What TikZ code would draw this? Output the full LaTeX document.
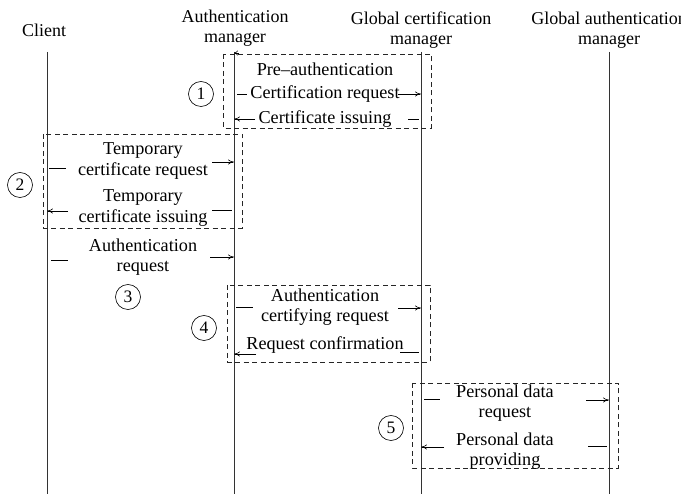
\documentclass[tikz,border=0pt]{standalone}
\usepackage{fontspec}
\setmainfont{Liberation Serif}
\usetikzlibrary{arrows.meta}
\tikzset{
  lifeline/.style={line width=.9pt, black!80},
  phase/.style={draw, black!85, line width=.7pt, dash pattern=on 5pt off 3.5pt},
  stepno/.style={circle, draw, line width=.6pt, inner sep=0pt, minimum size=25pt, font=\fontsize{17.5}{17}\selectfont},
  actor/.style={align=center, font=\fontsize{18}{20}\selectfont},
  msg/.style={align=center, font=\fontsize{18.2}{20.5}\selectfont},
  tip/.style={line width=.6pt, -{To[length=6pt,width=5pt]}},
  stub/.style={line width=.6pt},
}
\begin{document}
\begin{tikzpicture}[x=1pt, y=-1pt]
\useasboundingbox (0,0) rectangle (681,494);

% lifelines
\coordinate (cl) at (47,52);
\coordinate (am) at (234,52);
\coordinate (gcm) at (421,52);
\coordinate (gam) at (609,52);
\draw[lifeline] (cl) -- (cl |- 0,494);
\draw[lifeline] (am) -- (am |- 0,494);
\draw[lifeline] (gcm) -- (gcm |- 0,494);
\draw[lifeline] (gam) -- (gam |- 0,494);

% actors
\node[actor] (clhead) at (44,30) {Client};
\node[actor] (amhead) at (235,28) {Authentication\\manager};
\node[actor] (gcmhead) at (421,30) {Global certification\\manager};
\node[actor] (gamhead) at (609,30) {Global authentication\\manager};

% phase 1
\draw[phase] (223,54) rectangle (431,128);
\draw[-{To[length=4pt,width=5pt]}, line width=.6pt] (239,53) -- (am |- 0,53);
\node[stepno] (s1) at (201,94) {1};
\node[msg] (preauth) at (325,69) {Pre--authentication};
\node[msg] (certreq) at (325,94) {Certification request};
\node[msg] (certiss) at (325,119) {Certificate issuing};
\draw[stub] (am |- 0,94) ++(3,0) -- ++(10,0);
\draw[tip] (398,94) -- (gcm |- 0,94);
\draw[tip] (255,119) -- (am |- 0,119);
\draw[stub] (gcm |- 0,119) ++(-13,0) -- ++(11,0);

% phase 2
\draw[phase] (43,134) rectangle (242,228);
\node[stepno] (s2) at (20,185) {2};
\node[msg] (tmpreq) at (143,161) {Temporary\\certificate request};
\node[msg] (tmpiss) at (143,208) {Temporary\\certificate issuing};
\draw[stub] (cl |- 0,168) ++(2,0) -- ++(17,0);
\draw[tip] (212,162) -- (am |- 0,162);
\draw[tip] (68,211) -- (cl |- 0,211);
\draw[stub] (am |- 0,210) ++(-22,0) -- ++(20,0);

% phase 3
\node[msg] (authreq) at (143,257) {Authentication\\request};
\node[stepno] (s3) at (128,297) {3};
\draw[stub] (cl |- 0,260) ++(4,0) -- ++(17,0);
\draw[tip] (210,257) -- (am |- 0,257);

% phase 4
\draw[phase] (227,285) rectangle (430,362);
\node[stepno] (s4) at (204,328) {4};
\node[msg] (certify) at (325,307) {Authentication\\certifying request};
\node[msg] (confirm) at (325,345) {Request confirmation};
\draw[stub] (am |- 0,307) ++(2,0) -- ++(17,0);
\draw[tip] (398,308) -- (gcm |- 0,308);
\draw[tip] (256,354) -- (am |- 0,354);
\draw[stub] (gcm |- 0,352) ++(-21,0) -- ++(19,0);

% phase 5
\draw[phase] (412,383) rectangle (618,468);
\node[stepno] (s5) at (391,428) {5};
\node[msg] (pdreq) at (505,403) {Personal data\\request};
\node[msg] (pdprov) at (505,451) {Personal data\\providing};
\draw[stub] (gcm |- 0,399) ++(3,0) -- ++(16,0);
\draw[tip] (586,400) -- (gam |- 0,400);
\draw[tip] (444,447) -- (gcm |- 0,447);
\draw[stub] (gam |- 0,446) ++(-21,0) -- ++(19,0);
\end{tikzpicture}
\end{document}
